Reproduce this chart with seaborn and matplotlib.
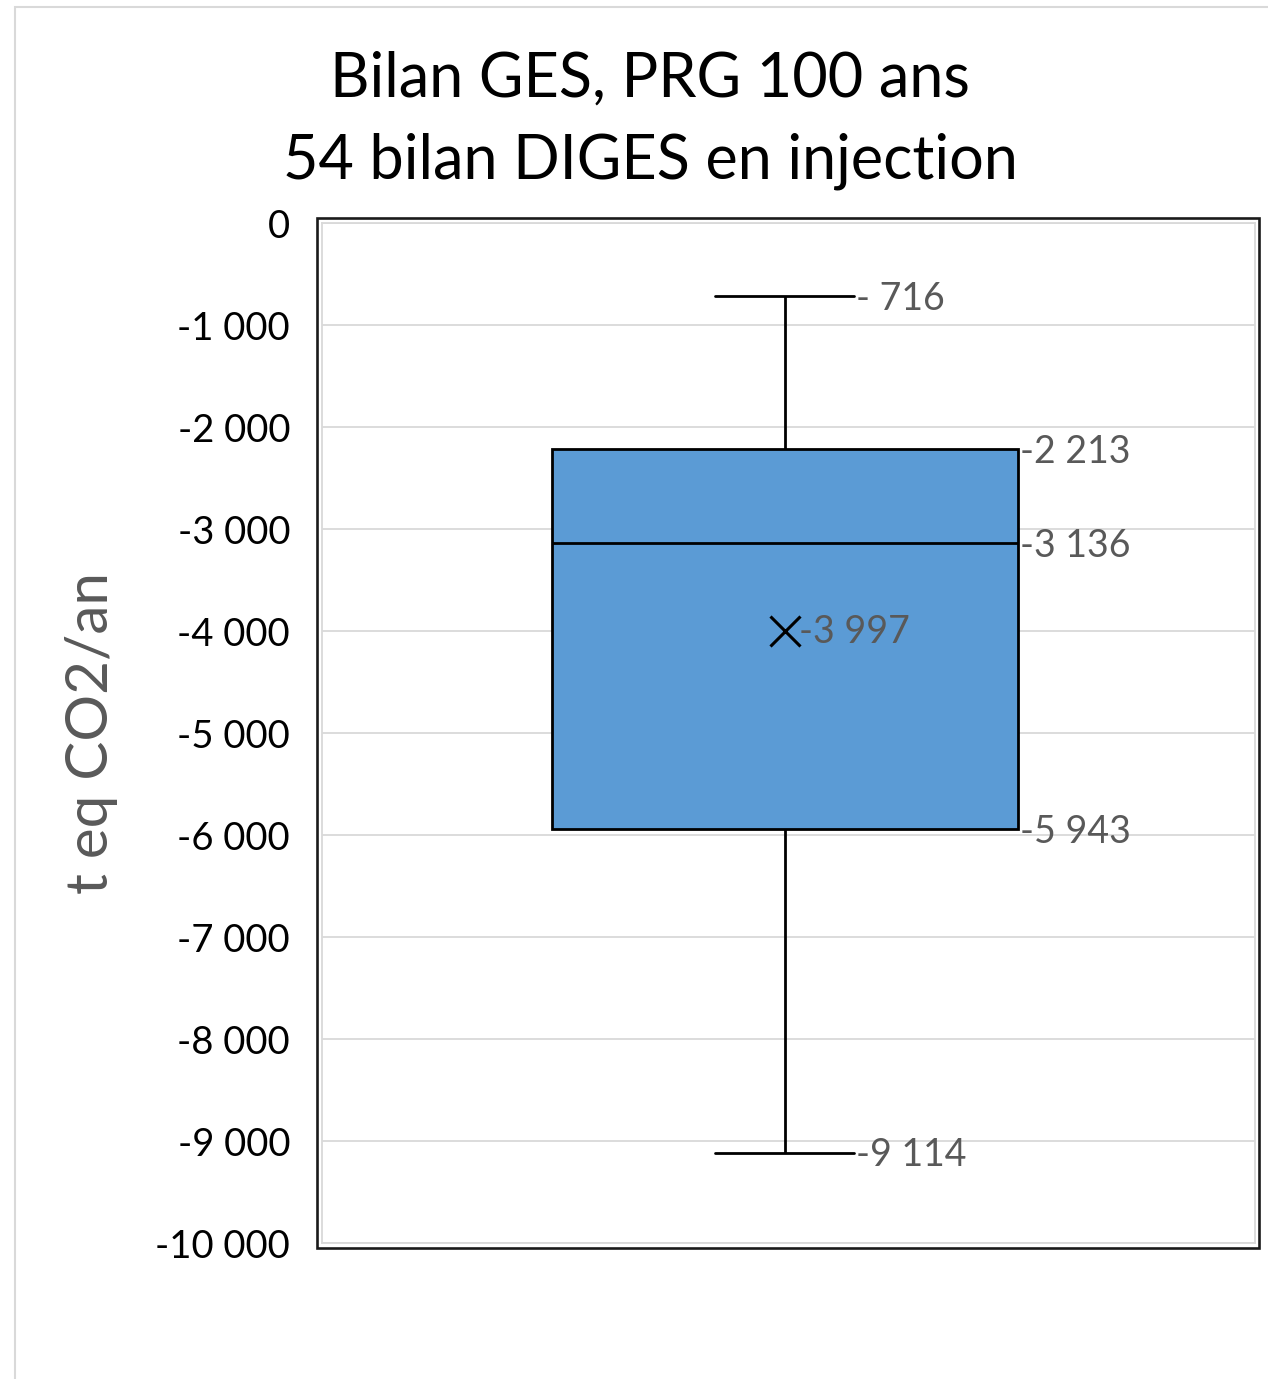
import matplotlib
matplotlib.use("Agg")
import matplotlib.pyplot as plt
from matplotlib.patches import Rectangle
from matplotlib.ticker import FuncFormatter, MultipleLocator
import seaborn as sns
import pandas as pd

# Chart texts
title_lines = ["Bilan GES, PRG 100 ans", "54 bilan DIGES en injection"]
y_label = "t eq CO2/an"

# Five-number summary and mean of the 54 DIGES balances (t eq CO2/an)
whisker_low = -9114
q1 = -5943
median = -3136
q3 = -2213
whisker_high = -716
mean_value = -3997

y_min, y_max, y_step = -10000, 0, 1000

summary = pd.DataFrame({"bilan": [whisker_low, q1, median, q3, whisker_high]})

BOX_BLUE = "#5B9BD5"
GRID = "#D9D9D9"
LABEL_GRAY = "#595959"

sns.set_style("white")
plt.rcParams["font.family"] = ["Lato", "DejaVu Sans"]
plt.rcParams["axes.unicode_minus"] = False

W, H = 1268, 1379
fig = plt.figure(figsize=(W / 100, H / 100), dpi=100)

# Plot area in pixel coordinates
px_left, px_right, px_top, px_bottom = 322, 1255, 223, 1243
ax = fig.add_axes([px_left / W, 1 - px_bottom / H,
                   (px_right - px_left) / W, (px_bottom - px_top) / H])

box_width = 0.5
cap_width = 0.149
sns.boxplot(data=summary, y="bilan", ax=ax, width=box_width, color=BOX_BLUE,
            saturation=1, linecolor="black", linewidth=2.0, whis=1.5,
            showfliers=False, capwidths=cap_width)

# Mean marker
ax.plot([0], [mean_value], marker="x", markersize=22, markeredgewidth=2.2,
        color="black", linestyle="none", zorder=5)

ax.set_xlim(-0.496, 0.504)
ax.set_ylim(y_min, y_max)
ax.yaxis.set_major_locator(MultipleLocator(y_step))
ax.yaxis.set_major_formatter(
    FuncFormatter(lambda v, _: f"{v:,.0f}".replace(",", " ")))
ax.set_xticks([])
ax.set_xlabel("")
ax.grid(axis="y", color=GRID, linewidth=1.3)
ax.set_axisbelow(True)
ax.tick_params(axis="y", length=0, pad=23, labelsize=27.5, labelcolor="black")
for s in ax.spines.values():
    s.set_color(GRID)
    s.set_linewidth(1.3)

ax.set_ylabel(y_label, fontsize=42, color=LABEL_GRAY)
ax.yaxis.set_label_coords(-0.219, 0.5)


def value_label(v):
    a = abs(int(round(v)))
    s = f"{a:,}".replace(",", " ")
    if a < 1000:
        s = " " + s
    return ("-" if v < 0 else "") + s


label_kw = dict(textcoords="offset points", ha="left", va="center",
                fontsize=27, color=LABEL_GRAY, zorder=6)
for v in (whisker_high, whisker_low):
    ax.annotate(value_label(v), xy=(cap_width / 2, v), xytext=(1.5, -2), **label_kw)
for v in (q3, median, q1):
    ax.annotate(value_label(v), xy=(box_width / 2, v), xytext=(1.5, -2), **label_kw)
ax.annotate(value_label(mean_value), xy=(0, mean_value), xytext=(10.5, -1), **label_kw)

# Title
fig.text(650 / W, 1 - 79 / H, title_lines[0], ha="center", va="center",
         fontsize=44, color="black")
fig.text(650 / W, 1 - 161 / H, title_lines[1], ha="center", va="center",
         fontsize=44, color="black")

# Dark frame around the plot area
fig.patches.append(Rectangle((317 / W, 1 - 1248 / H), (1259 - 317) / W,
                             (1248 - 218) / H, transform=fig.transFigure,
                             fill=False, edgecolor="#1a1a1a", linewidth=1.9))
# Light chart-area border
fig.patches.append(Rectangle((15 / W, -0.1), 1.2, 1.1 - 7 / H,
                             transform=fig.transFigure, fill=False,
                             edgecolor=GRID, linewidth=1.5))

fig.savefig("out.png", dpi=100)
